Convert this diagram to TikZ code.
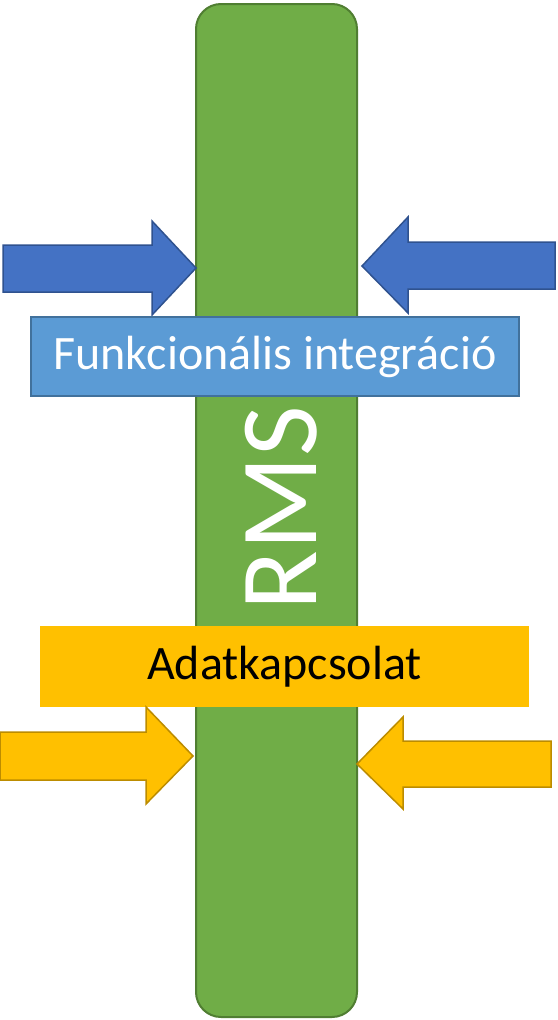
\documentclass[tikz,border=0pt]{standalone}
\usepackage{fontspec}
\setmainfont{Carlito}
\definecolor{gfill}{HTML}{70AD47}
\definecolor{gline}{HTML}{507E32}
\definecolor{bfill}{HTML}{4472C4}
\definecolor{bline}{HTML}{2F528F}
\definecolor{lbfill}{HTML}{5B9BD5}
\definecolor{lbline}{HTML}{41719C}
\definecolor{yfill}{HTML}{FFC000}
\definecolor{yline}{HTML}{BC8C00}
\tikzset{
  barstyle/.style={fill=gfill,draw=gline,line width=2pt,rounded corners=25pt},
  bluearrow/.style={fill=bfill,draw=bline,line width=1.5pt,line join=miter},
  yellowarrow/.style={fill=yfill,draw=yline,line width=1.5pt,line join=miter},
  bluebox/.style={fill=lbfill,draw=lbline,line width=1.5pt,minimum width=488pt,minimum height=79pt,inner sep=0pt,text=white,font=\fontsize{48}{56}\selectfont},
  yellowbox/.style={fill=yfill,minimum width=489pt,minimum height=81pt,inner sep=0pt,text=black,font=\fontsize{48}{56}\selectfont},
  rmslabel/.style={text=white,rotate=90,inner sep=0pt,font=\fontsize{110}{120}\selectfont}
}
\begin{document}
\begin{tikzpicture}[x=1pt,y=-1pt]
\useasboundingbox (0,0) rectangle (557,1020);
\draw[barstyle] (196,4) rectangle (357,1017);
\node[rmslabel] (rms) at (281,508) {RMS};
\draw[bluearrow] (3,245)--(152,245)--(152,221)--(196,268)--(152,315)--(152,292)--(3,292)--cycle;
\draw[bluearrow] (555,242)--(408,242)--(408,217)--(362,266)--(408,313)--(408,289)--(555,289)--cycle;
\node[bluebox] (fi) at (275,356.5) {Funkcionális integráció};
\node[yellowbox] (ak) at (284.5,666.5) {Adatkapcsolat};
\draw[yellowarrow] (0,732)--(146,732)--(146,707)--(193,756)--(146,804)--(146,780)--(0,780)--cycle;
\draw[yellowarrow] (551,741)--(403,741)--(403,717)--(357,764)--(403,809)--(403,787)--(551,787)--cycle;
\end{tikzpicture}
\end{document}
